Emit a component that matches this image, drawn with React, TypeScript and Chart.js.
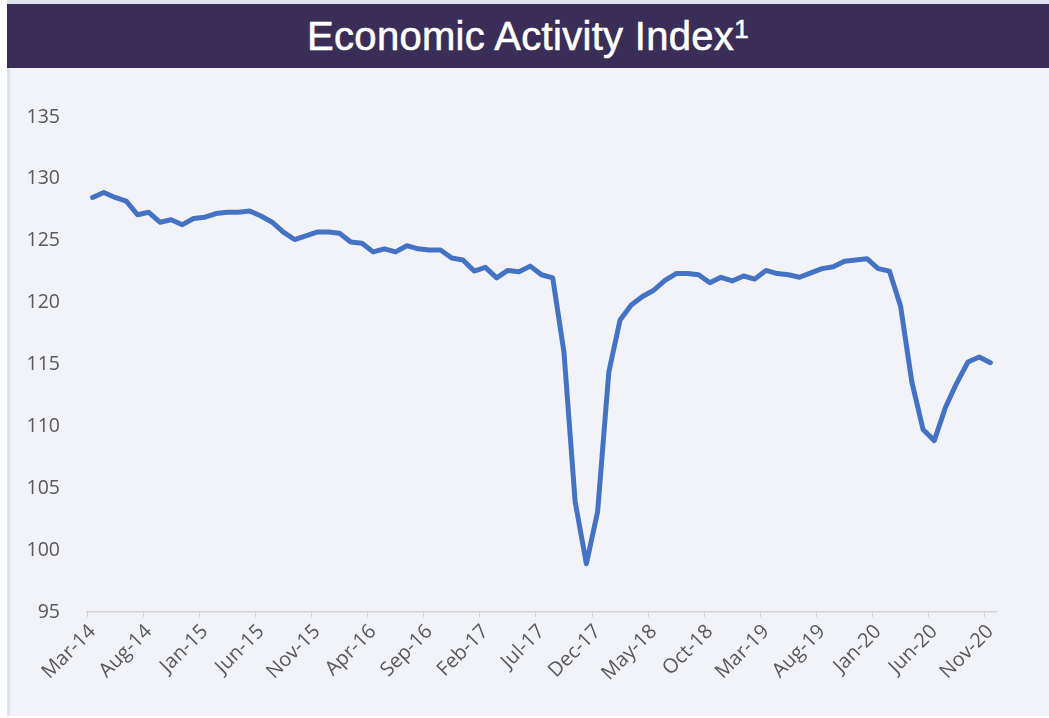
import React, { useEffect, useRef } from "react";
import { Chart, registerables } from "chart.js";

Chart.register(...registerables);

const titleText = "Economic Activity Index";
const titleNote = "1";

const months = [
  "Mar-14", "Apr-14", "May-14", "Jun-14", "Jul-14", "Aug-14", "Sep-14", "Oct-14", "Nov-14", "Dec-14",
  "Jan-15", "Feb-15", "Mar-15", "Apr-15", "May-15", "Jun-15", "Jul-15", "Aug-15", "Sep-15", "Oct-15", "Nov-15", "Dec-15",
  "Jan-16", "Feb-16", "Mar-16", "Apr-16", "May-16", "Jun-16", "Jul-16", "Aug-16", "Sep-16", "Oct-16", "Nov-16", "Dec-16",
  "Jan-17", "Feb-17", "Mar-17", "Apr-17", "May-17", "Jun-17", "Jul-17", "Aug-17", "Sep-17", "Oct-17", "Nov-17", "Dec-17",
  "Jan-18", "Feb-18", "Mar-18", "Apr-18", "May-18", "Jun-18", "Jul-18", "Aug-18", "Sep-18", "Oct-18", "Nov-18", "Dec-18",
  "Jan-19", "Feb-19", "Mar-19", "Apr-19", "May-19", "Jun-19", "Jul-19", "Aug-19", "Sep-19", "Oct-19", "Nov-19", "Dec-19",
  "Jan-20", "Feb-20", "Mar-20", "Apr-20", "May-20", "Jun-20", "Jul-20", "Aug-20", "Sep-20", "Oct-20", "Nov-20",
];

const activityIndex = [
  128.5, 128.9, 128.5, 128.2, 127.1, 127.3, 126.5, 126.7, 126.3, 126.8,
  126.9, 127.2, 127.3, 127.3, 127.4, 127.0, 126.5, 125.7, 125.1, 125.4, 125.7, 125.7,
  125.6, 124.9, 124.8, 124.1, 124.35, 124.1, 124.6, 124.35, 124.25, 124.25, 123.6, 123.45,
  122.55, 122.85, 122.0, 122.6, 122.5, 122.95, 122.25, 122.0, 116.0, 103.9, 98.9, 103.1,
  114.4, 118.6, 119.8, 120.5, 121.0, 121.8, 122.35, 122.35, 122.25, 121.6, 122.05, 121.75,
  122.15, 121.9, 122.6, 122.35, 122.25, 122.05, 122.4, 122.75, 122.9, 123.35, 123.45, 123.55,
  122.75, 122.55, 119.7, 113.6, 109.75, 108.85, 111.55, 113.5, 115.2, 115.6, 115.15,
];

const yMin = 95;
const yMax = 135;
const yStep = 5;
const labelEvery = 5;

export default function App() {
  const ref = useRef<HTMLCanvasElement>(null);

  useEffect(() => {
    if (!ref.current) return;
    const chart = new Chart(ref.current, {
      type: "line",
      data: {
        labels: months,
        datasets: [
          {
            data: activityIndex,
            borderColor: "#4472c4",
            backgroundColor: "#4472c4",
            borderWidth: 5,
            pointRadius: 0,
            tension: 0,
            fill: false,
            borderJoinStyle: "round",
            borderCapStyle: "round",
          },
        ],
      },
      options: {
        animation: false,
        responsive: false,
        maintainAspectRatio: false,
        layout: { padding: { top: 49, right: 53, left: 0, bottom: 0 } },
        plugins: {
          legend: { display: false },
          tooltip: { enabled: false },
          title: { display: false },
        },
        scales: {
          x: {
            type: "category",
            offset: true,
            grid: {
              offset: true,
              drawOnChartArea: false,
              drawTicks: true,
              tickLength: 5,
              lineWidth: 1,
              color: (ctx: any) => (ctx.index % labelEvery === 0 ? "#d3d3d3" : "rgba(0,0,0,0)"),
            },
            border: { display: true, color: "#d3d3d3", width: 1.5 },
            ticks: {
              autoSkip: false,
              maxRotation: 45,
              minRotation: 45,
              padding: 3,
              color: "#595959",
              font: { family: "'Open Sans', sans-serif", size: 20 },
              callback: (_v: any, i: number) => (i % labelEvery === 0 ? months[i] : ""),
            },
            afterFit: (s: any) => {
              s.height = 104;
            },
          },
          y: {
            min: yMin,
            max: yMax,
            grid: { display: false },
            border: { display: false },
            ticks: {
              stepSize: yStep,
              padding: 19,
              color: "#595959",
              font: { family: "'Open Sans', sans-serif", size: 19.5 },
            },
            afterFit: (s: any) => {
              s.width = 77;
            },
          },
        },
      },
    } as any);
    return () => chart.destroy();
  }, []);

  return (
    <div style={{ position: "absolute", left: 0, top: 0, width: 1049, height: 718, background: "#ffffff", overflow: "hidden" }}>
      <div style={{ position: "absolute", left: 7, top: 0, width: 1042, height: 716, background: "#f2f3f8" }}>
        <div style={{ position: "absolute", left: 0, top: 0, width: 1042, height: 4, background: "#dfe4ee" }} />
        <div
          style={{
            position: "absolute",
            left: 0,
            top: 4,
            width: 1042,
            height: 64,
            background: "#3a2d57",
            color: "#ffffff",
            fontFamily: "'Liberation Sans', Arial, sans-serif",
            fontSize: 40,
            lineHeight: "64px",
            textAlign: "center",
            letterSpacing: 0.3,
            WebkitTextStroke: "0.6px #ffffff",
          }}
        >
          {titleText}
          <sup style={{ fontSize: 26, verticalAlign: "top", lineHeight: "50px" }}>{titleNote}</sup>
        </div>
        <div style={{ position: "absolute", left: 0, top: 68, width: 3, height: 648, background: "#dbe2f0" }} />
        <canvas
          ref={ref}
          width={1039}
          height={648}
          style={{ position: "absolute", left: 3, top: 68, width: 1039, height: 648, display: "block" }}
        />
      </div>
    </div>
  );
}
